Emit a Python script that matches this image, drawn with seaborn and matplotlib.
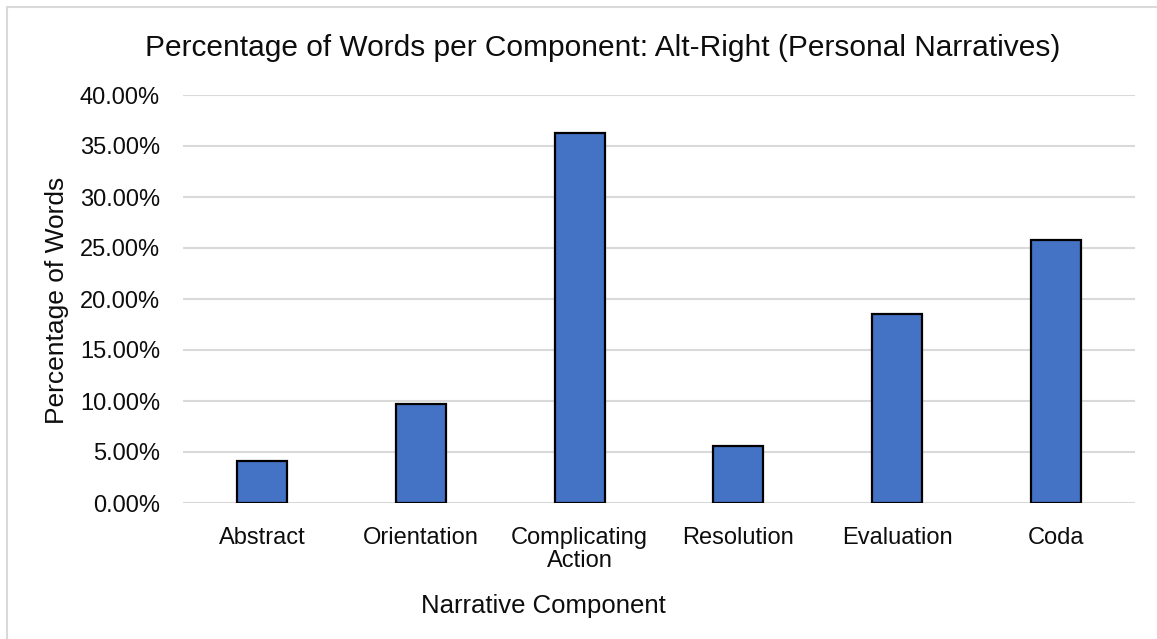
import matplotlib
matplotlib.use("Agg")
import matplotlib.pyplot as plt
from matplotlib.lines import Line2D
from matplotlib.ticker import PercentFormatter, MultipleLocator
import seaborn as sns
import pandas as pd

# Share of words (%) in each narrative component
components = ["Abstract", "Orientation", "Complicating\nAction", "Resolution", "Evaluation", "Coda"]
percent_words = [4.12, 9.71, 36.27, 5.59, 18.56, 25.77]

title = "Percentage of Words per Component: Alt-Right (Personal Narratives)"
x_label = "Narrative Component"
y_label = "Percentage of Words"

sns.set_theme(style="white")
plt.rcParams["font.family"] = ["Liberation Sans", "DejaVu Sans"]

TEXT = "#0d0d0d"
W, H = 1157, 639
fig = plt.figure(figsize=(W / 100, H / 100), dpi=100)
ax = fig.add_axes([183 / W, 1 - 503 / H, (1135 - 183) / W, (503 - 95) / H])

df = pd.DataFrame({"component": components, "pct": percent_words})
sns.barplot(data=df, x="component", y="pct", color="#4472C4", saturation=1,
            width=0.315, edgecolor="black", linewidth=1.6, ax=ax, zorder=3)

ax.set_ylim(0, 40)
ax.yaxis.set_major_locator(MultipleLocator(5))
ax.yaxis.set_major_formatter(PercentFormatter(xmax=100, decimals=2))
ax.grid(axis="y", color="#d9d9d9", linewidth=1.5, zorder=0)
ax.set_axisbelow(True)
for s in ax.spines.values():
    s.set_visible(False)

ax.tick_params(axis="both", length=0, labelsize=17, labelcolor=TEXT)
ax.tick_params(axis="y", pad=16.5)
ax.tick_params(axis="x", pad=17)
for lbl in ax.get_xticklabels():
    lbl.set_linespacing(1.08)
ax.set_xlabel("")
ax.set_ylabel("")

fig.text(603 / W, 1 - 48 / H, title, ha="center", va="center", fontsize=21.5, color=TEXT)
fig.text(543 / W, 1 - 606 / H, x_label, ha="center", va="center", fontsize=18.5, color=TEXT)
fig.text(57 / W, 1 - 300 / H, y_label, ha="center", va="center", rotation=90,
         fontsize=19, color=TEXT)

# light chart-area frame along the left and top edges
fig.add_artist(Line2D([7 / W, 7 / W], [0, 1 - 7 / H], transform=fig.transFigure,
                      color="#d9d9d9", linewidth=1.5))
fig.add_artist(Line2D([7 / W, 1], [1 - 7 / H, 1 - 7 / H], transform=fig.transFigure,
                      color="#d9d9d9", linewidth=1.5))

fig.savefig("out.png", dpi=100, facecolor="white")
